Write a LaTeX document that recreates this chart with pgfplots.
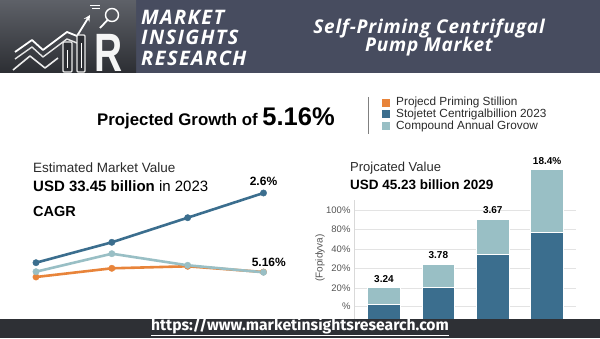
\documentclass[border=0pt]{standalone}
\usepackage{pgfplots}
\pgfplotsset{compat=1.18}
\usepackage{fontspec}
\setmainfont{Liberation Sans}
\newfontfamily\osansA[LetterSpace=7]{Open Sans}
\newfontfamily\osansB[LetterSpace=4]{Open Sans}
\newfontfamily\fira{Fira Sans}
\definecolor{hdr}{HTML}{474C5F}
\definecolor{ftr}{HTML}{2E3035}
\definecolor{dblue}{HTML}{3B6E8E}
\definecolor{lteal}{HTML}{99BFC5}
\definecolor{orng}{HTML}{E8843A}
\definecolor{txt}{HTML}{2B2B2B}
\definecolor{gtxt}{HTML}{555555}
\definecolor{logoA}{HTML}{5E6168}
\definecolor{logoB}{HTML}{2C2E33}
\begin{document}
\begin{tikzpicture}
\useasboundingbox (0,0) rectangle (600pt,338pt);
\fill[white] (0,0) rectangle (600pt,338pt);
\begin{scope}[x=1pt,y=1pt]
 % header band
 \fill[hdr] (136,265) rectangle (600,338);
 \shade[top color=logoA, bottom color=logoB] (0,265) rectangle (136,338);
 % logo drawing
 \draw[white, line width=1.8pt, line join=round, -stealth] (15,286) -- (32,298) -- (43,288) -- (67,306) -- (77,302) -- (90,323);
 \draw[white!80!gray, line width=1.4pt, line join=round] (15,279) -- (32,291) -- (43,281) -- (67,299) -- (77,295);
 \draw[white!85!gray, line width=1.6pt, line join=round] (13,268) -- (30,282) -- (45,270) -- (58,280);
 \draw[white!85!gray, line width=1.2pt, rounded corners=1pt, fill=logoB] (63,266) rectangle (72,296);
 \draw[white!85!gray, line width=1.2pt, rounded corners=1pt, fill=logoB] (77,266) rectangle (85,303);
 \draw[white, line width=1pt] (67.5,270) -- (67.5,288);
 \draw[white, line width=1pt] (81,270) -- (81,295);
 \node[font=\bfseries\fontsize{54}{54}\selectfont, text=white!92!gray, anchor=base west, inner sep=0pt, xscale=0.72] at (94,266) {R};
 \draw[white, line width=1.4pt] (112,323) circle (6.5);
 \draw[white, line width=1.8pt] (107.5,318) -- (100,310);
 \draw[white, line width=0.8pt] (90,333) -- (100,333) (92,330) -- (100,330);
 % header texts
 \node[anchor=west, text=white, font=\osansA\bfseries\itshape\fontsize{20}{20}\selectfont, inner sep=0pt] at (141,321) {MARKET};
 \node[anchor=west, text=white, font=\osansA\bfseries\itshape\fontsize{20}{20}\selectfont, inner sep=0pt] at (141,300.5) {INSIGHTS};
 \node[anchor=west, text=white, font=\osansA\bfseries\itshape\fontsize{20}{20}\selectfont, inner sep=0pt] at (141,280) {RESEARCH};
 \node[text=white, font=\osansB\bfseries\itshape\fontsize{19}{19}\selectfont, inner sep=0pt] at (429,309) {Self-Priming Centrifugal};
 \node[text=white, font=\osansB\bfseries\itshape\fontsize{19}{19}\selectfont, inner sep=0pt] at (429,291) {Pump Market};
 % projected growth
 \node[anchor=base west, inner sep=0pt, text=black, font=\bfseries\fontsize{16.8}{17}\selectfont] at (97,212) {Projected Growth of {\fontsize{25.5}{26}\selectfont 5.16\%}};
 \draw[gray, line width=0.8pt] (368,241) -- (368,204);
 % legend
 \fill[orng] (382,231) rectangle (390,239);
 \fill[dblue] (382,219.5) rectangle (390,227.5);
 \fill[lteal] (382,207.5) rectangle (390,215.5);
 \node[anchor=west, inner sep=0pt, text=txt, font=\fontsize{11.8}{12}\selectfont] at (396,235.5) {Projecd Priming Stillion};
 \node[anchor=west, inner sep=0pt, text=txt, font=\fontsize{11.8}{12}\selectfont] at (396,223.5) {Stojetet Centrigalbillion 2023};
 \node[anchor=west, inner sep=0pt, text=txt, font=\fontsize{11.8}{12}\selectfont] at (396,211.5) {Compound Annual Grovow};
 % left texts
 \node[anchor=west, inner sep=0pt, text=txt, font=\fontsize{13.5}{14}\selectfont] at (33,170.3) {Estimated Market Value};
 \node[anchor=west, inner sep=0pt, text=black, font=\fontsize{15}{15}\selectfont] at (33,151.5) {\textbf{USD 33.45 billion} in 2023};
 \node[anchor=west, inner sep=0pt, text=black, font=\bfseries\fontsize{14.5}{15}\selectfont] at (33,126.3) {CAGR};
 % right texts
 \node[anchor=west, inner sep=0pt, text=txt, font=\fontsize{13}{14}\selectfont] at (350,170.3) {Projcated Value};
 \node[anchor=west, inner sep=0pt, text=black, font=\bfseries\fontsize{13.5}{14}\selectfont] at (350,153) {USD 45.23 billion 2029};
\end{scope}

% line chart
\begin{axis}[at={(36pt,48pt)}, anchor=south west, scale only axis,
  width=227.5pt, height=110pt, xmin=0, xmax=3, ymin=0, ymax=110,
  hide axis, clip=false]
\addplot[orng, line width=2.6pt, mark=*, mark size=3.2pt, mark options={solid, line width=0.4pt}] coordinates {(0,13) (1,21.7) (2,23.7) (3,18)};
\addplot[dblue, line width=2.6pt, mark=*, mark size=3.2pt, mark options={solid, line width=0.4pt}] coordinates {(0,27.3) (1,47.7) (2,72.3) (3,97)};
\addplot[lteal, line width=2.6pt, mark=*, mark size=3.2pt, mark options={solid, line width=0.4pt}] coordinates {(0,18.3) (1,36.3) (2,24.7) (3,17.7)};
\node[font=\bfseries\fontsize{12}{12}\selectfont, text=black] at (axis cs:3,108.3) {2.6\%};
\node[font=\bfseries\fontsize{12}{12}\selectfont, text=black] at (axis cs:3.07,28) {5.16\%};
\end{axis}

% bar chart
\begin{axis}[at={(354pt,8pt)}, anchor=south west, scale only axis,
  width=222pt, height=130pt, xmin=-0.55, xmax=3.53, ymin=0, ymax=130,
  clip=false, ybar stacked, bar width=32.5pt,
  axis x line=none, axis y line*=left,
  y axis line style={draw=gray!30, line width=0.6pt},
  xtick=\empty,
  ytick={24,42,62,81,101,120},
  yticklabels={\%,20\%,20\%,40\%,80\%,100\%},
  ymajorgrids, grid style={draw=gray!22, line width=0.6pt},
  major tick length=0pt,
  yticklabel style={font=\fontsize{9.5}{10}\selectfont, text=gtxt},
  ylabel={(Fopidyva)},
  every axis y label/.style={at={(axis description cs:-0.153,0.554)}, anchor=center, rotate=90, font=\fontsize{10}{10}\selectfont, text=gtxt}]
\addplot[fill=dblue, draw=white, line width=1pt] coordinates {(0,26) (1,43) (2,76) (3,98)};
\addplot[fill=lteal, draw=white, line width=1pt] coordinates {(0,16.3) (1,23) (2,35) (3,62.7)};
\node[anchor=south, yshift=1.5pt, font=\bfseries\fontsize{10}{10}\selectfont] at (axis cs:0,42.3) {3.24};
\node[anchor=south, yshift=1.5pt, font=\bfseries\fontsize{10}{10}\selectfont] at (axis cs:1,66) {3.78};
\node[anchor=south, yshift=1.5pt, font=\bfseries\fontsize{10}{10}\selectfont] at (axis cs:2,111) {3.67};
\node[anchor=south, yshift=1.5pt, font=\bfseries\fontsize{10}{10}\selectfont] at (axis cs:3,160.7) {18.4\%};
\end{axis}

% footer
\begin{scope}[x=1pt,y=1pt]
 \fill[ftr] (0,0) rectangle (600,19);
 \node[text=white, font=\fira\bfseries\fontsize{15.7}{15.7}\selectfont, inner sep=0pt] at (300,11.5) {\underline{https://www.marketinsightsresearch.com}};
\end{scope}
\end{tikzpicture}
\end{document}
